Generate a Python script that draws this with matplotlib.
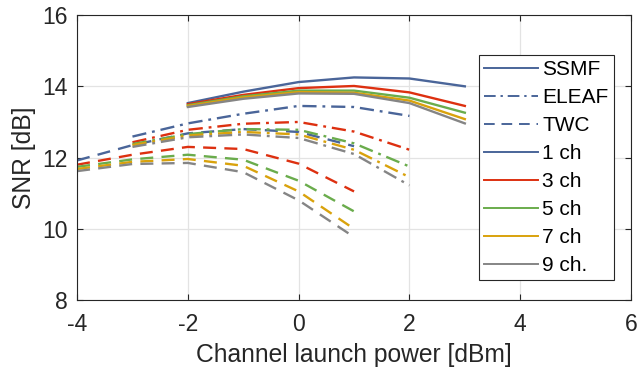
import matplotlib
matplotlib.use("Agg")
import matplotlib.pyplot as plt
from matplotlib.lines import Line2D

plt.rcParams['font.family'] = ['Liberation Sans', 'DejaVu Sans']

# launch power grids [dBm]
p_ssmf = [-2, -1, 0, 1, 2, 3]
p_eleaf = [-3, -2, -1, 0, 1, 2]
p_twc = [-4, -3, -2, -1, 0, 1]

channels = ["1 ch", "3 ch", "5 ch", "7 ch", "9 ch."]
colors = ["#4a6599", "#dd3010", "#6aac4c", "#d9a20c", "#858585"]

# SNR [dB] per channel count
snr_ssmf = [
    [13.53, 13.85, 14.12, 14.25, 14.22, 14.00],
    [13.50, 13.76, 13.95, 14.01, 13.83, 13.45],
    [13.47, 13.72, 13.88, 13.88, 13.68, 13.26],
    [13.45, 13.69, 13.84, 13.82, 13.60, 13.08],
    [13.42, 13.65, 13.80, 13.79, 13.53, 12.96],
]
snr_eleaf = [
    [12.59, 12.96, 13.23, 13.45, 13.42, 13.17],
    [12.43, 12.78, 12.95, 13.00, 12.73, 12.22],
    [12.38, 12.66, 12.80, 12.78, 12.40, 11.75],
    [12.35, 12.62, 12.72, 12.65, 12.22, 11.45],
    [12.30, 12.57, 12.65, 12.55, 12.10, 11.22],
]
snr_twc = [
    [11.92, 12.35, 12.68, 12.80, 12.72, 12.32],
    [11.80, 12.08, 12.30, 12.24, 11.83, 11.05],
    [11.74, 11.95, 12.08, 11.94, 11.35, 10.49],
    [11.68, 11.88, 11.96, 11.77, 11.05, 10.00],
    [11.62, 11.82, 11.85, 11.59, 10.80, 9.77],
]

fig = plt.figure(figsize=(6.37, 3.77), dpi=100)
ax = fig.add_axes([0.121, 0.204, 0.8696, 0.756])

dash = (0, (5.5, 3.5))
dashdot = (0, (6, 2.5, 1.2, 2.5))
for i in range(len(channels)):
    ax.plot(p_ssmf, snr_ssmf[i], color=colors[i], lw=1.7, ls='-')
    ax.plot(p_eleaf, snr_eleaf[i], color=colors[i], lw=1.7, ls=dashdot)
    ax.plot(p_twc, snr_twc[i], color=colors[i], lw=1.7, ls=dash)

ax.set_xlim(-4, 6)
ax.set_ylim(8, 16)
ax.set_xticks([-4, -2, 0, 2, 4, 6])
ax.set_yticks([8, 10, 12, 14, 16])
ax.set_xticklabels(["-4", "-2", "0", "2", "4", "6"])
ax.grid(True, color="#e3e3e3", lw=0.9)
ax.set_axisbelow(True)
for s in ax.spines.values():
    s.set_color("#262626")
    s.set_linewidth(0.8)
ax.tick_params(direction='in', length=4, width=0.8, colors="#262626",
               labelsize=16.5, top=True, right=True, labelcolor="#262626")
ax.tick_params(axis='x', pad=9)
ax.tick_params(axis='y', pad=7)
ax.set_xlabel("Channel launch power [dBm]", fontsize=17.7, color="#262626", labelpad=5)
ax.set_ylabel("SNR [dB]", fontsize=17.7, color="#262626", labelpad=4)

# legend: fiber styles then channel colours
handles = [
    Line2D([], [], color=colors[0], lw=1.4, ls='-', label="SSMF"),
    Line2D([], [], color=colors[0], lw=1.4, ls=dashdot, label="ELEAF"),
    Line2D([], [], color=colors[0], lw=1.4, ls=dash, label="TWC"),
]
for c, name in zip(colors, channels):
    handles.append(Line2D([], [], color=c, lw=1.4, ls='-', label=name))
leg = ax.legend(handles=handles, loc="upper right", bbox_to_anchor=(0.969, 0.86),
                fontsize=15, frameon=True, fancybox=False, handlelength=2.6,
                handletextpad=0.2, labelspacing=0.43, borderpad=0.25,
                borderaxespad=0)
leg.get_frame().set_edgecolor("#262626")
leg.get_frame().set_linewidth(0.8)
leg.get_frame().set_alpha(1)

fig.savefig("out.png", dpi=100)
